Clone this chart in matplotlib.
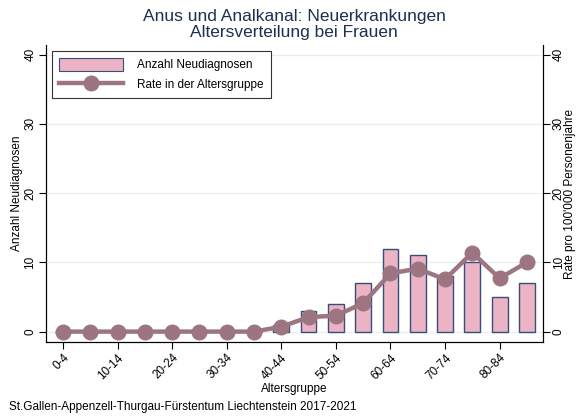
import numpy as np
import matplotlib.pyplot as plt
from matplotlib.patches import Patch
from matplotlib.lines import Line2D

plt.rcParams['font.family'] = ['Liberation Sans', 'DejaVu Sans']

# age groups and values
groups = ['0-4', '5-9', '10-14', '15-19', '20-24', '25-29', '30-34', '35-39',
          '40-44', '45-49', '50-54', '55-59', '60-64', '65-69', '70-74',
          '75-79', '80-84', '85+']
cases = [0, 0, 0, 0, 0, 0, 0, 0, 1, 3, 4, 7, 12, 11, 8, 10, 5, 7]
rate = [0, 0, 0, 0, 0, 0, 0, 0, 0.7, 2.1, 2.3, 4.1, 8.4, 9.1, 7.55, 11.4, 7.7, 10.0]

bar_col = '#ebb3c3'
edge_col = '#34507a'
line_col = '#9c7580'
txt_col = '#1f2f4f'

fig = plt.figure(figsize=(5.79, 4.17), dpi=100)
ax = fig.add_axes([46/579, 1-342/417, (543-46)/579, (342-45)/417])
ax2 = ax.twinx()

x = np.arange(len(groups))
ax.bar(x, cases, width=0.58, color=bar_col, edgecolor=edge_col, linewidth=1.0, zorder=2)
ax2.plot(x, rate, color=line_col, lw=3.2, marker='o', ms=10.5, zorder=3)

for a in (ax, ax2):
    a.set_xlim(-0.62, 17.59)
    a.set_ylim(-1.5, 41.4)
    a.set_yticks([0, 10, 20, 30, 40])
    a.tick_params(axis='y', labelsize=8.5, length=5, width=0.8, rotation=90, pad=2)
    for s in a.spines.values():
        s.set_linewidth(0.8)
ax.spines['top'].set_visible(False)
ax2.spines['top'].set_visible(False)
for lab in ax.get_yticklabels():
    lab.set_va('center')
for lab in ax2.get_yticklabels():
    lab.set_va('center')

ax.yaxis.grid(True, color='#e6edf3', lw=0.9, zorder=0)
ax.set_axisbelow(True)
ax2.set_zorder(ax.get_zorder() + 1)
ax2.patch.set_visible(False)

ax.set_xticks(x[::2])
ax.set_xticklabels(groups[::2], rotation=45, ha='right', rotation_mode='anchor', fontsize=8.5)
ax.tick_params(axis='x', length=5, width=0.8, pad=2)

ax.set_ylabel('Anzahl Neudiagnosen', fontsize=8.5, va='center')
ax.yaxis.set_label_coords((17-46)/497, 0.5)
ax2.set_ylabel("Rate pro 100'000 Personenjahre", fontsize=8.5, va='center')
ax2.yaxis.set_label_coords((570-46)/497, 0.5)
ax.set_xlabel('Altersgruppe', fontsize=8.5, va='center')
ax.xaxis.set_label_coords(0.5, (342-389)/297)

fig.text(0.508, 1-16/417, 'Anus und Analkanal: Neuerkrankungen', ha='center', va='center',
         fontsize=12.5, color=txt_col)
fig.text(0.508, 1-33/417, 'Altersverteilung bei Frauen', ha='center', va='center',
         fontsize=12.5, color=txt_col)
fig.text(9/579, 1-407/417, 'St.Gallen-Appenzell-Thurgau-Fürstentum Liechtenstein 2017-2021',
         ha='left', va='center', fontsize=8.5)

handles = [Patch(facecolor=bar_col, edgecolor=edge_col, linewidth=0.8),
           Line2D([0], [0], color=line_col, lw=3.2, marker='o', ms=10.5)]
leg = ax2.legend(handles, ['Anzahl Neudiagnosen', 'Rate in der Altersgruppe'],
                 loc='upper left', bbox_to_anchor=((52-46)/497, (342-51)/297),
                 borderaxespad=0, fontsize=8.5,
                 frameon=True, fancybox=False, edgecolor='black', handlelength=5.4,
                 handleheight=1.3, borderpad=0.6, labelspacing=0.55, handletextpad=1.2)
leg.get_frame().set_linewidth(0.8)

fig.savefig('out.png', dpi=100)
